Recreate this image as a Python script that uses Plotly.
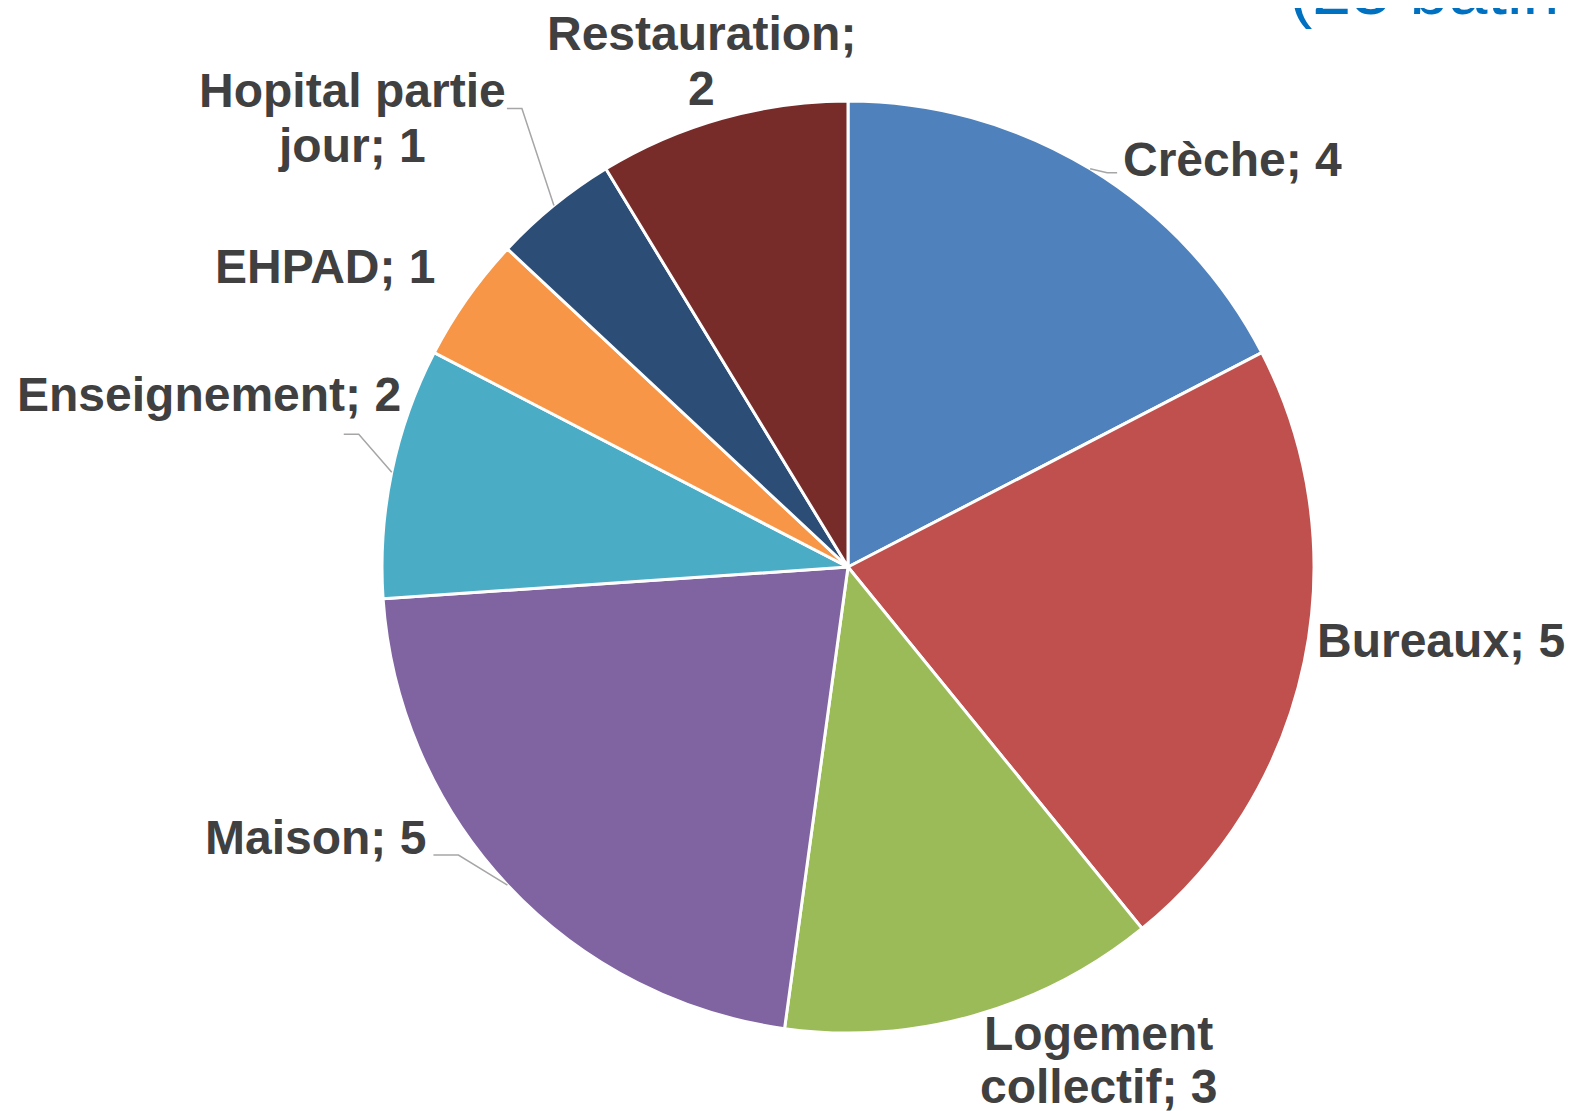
import math
import plotly.graph_objects as go

# ---- data ----
categories = ["Crèche", "Bureaux", "Logement collectif", "Maison",
              "Enseignement", "EHPAD", "Hopital partie jour", "Restauration"]
values = [4, 5, 3, 5, 2, 1, 1, 2]
label_lines = [["Crèche; 4"], ["Bureaux; 5"], ["Logement", "collectif; 3"], ["Maison; 5"],
               ["Enseignement; 2"], ["EHPAD; 1"], ["Hopital partie", "jour; 1"],
               ["Restauration;", "2"]]
colors = ["#4F81BD", "#C0504D", "#9BBB59", "#8064A2",
          "#4BACC6", "#F79646", "#2C4D75", "#772C2A"]

# ---- layout constants (screen pixels) ----
W, H = 1576, 1111
CX, CY, R = 848, 567, 466
PAGE_OFF = 8            # page body margin shifts the figure by this much

# label line centres (screen pixels) of first line, and line gap
label_pos = [(1232, 159), (1441, 640), (1098, 1033), (315, 837),
             (209, 395), (325, 266), (352, 90), (701, 33)]
line_gap = [0, 0, 53, 0, 0, 0, 55, 55]
# leader elbow offsets (elbow, end) relative to edge point, None = no leader
leaders = [((17, 4), (27, 4)), None, None, ((-49, -30), (-74, -30)),
           ((-33, -38), (-48, -38)), None, ((-32, -97), (-47, -97)), None]


def px(x, y):
    return (x - PAGE_OFF) / W, 1 - (y - PAGE_OFF) / H


x0, y0 = px(CX - R, CY + R)
x1, y1 = px(CX + R, CY - R)
fig = go.Figure(go.Pie(
    labels=categories,
    values=values,
    sort=False,
    direction="clockwise",
    rotation=0,
    marker=dict(colors=colors, line=dict(color="white", width=3)),
    textinfo="none",
    hoverinfo="skip",
    showlegend=False,
    domain=dict(x=[x0, x1], y=[y0, y1]),
))

annotations = []
shapes = []
total = sum(values)
cum = 0
for i, v in enumerate(values):
    mid = (cum + v / 2) / total * 2 * math.pi
    cum += v
    ex = CX + R * math.sin(mid)
    ey = CY - R * math.cos(mid)
    lx, ly = label_pos[i]
    for k, line in enumerate(label_lines[i]):
        x, y = px(lx, ly + k * line_gap[i])
        annotations.append(dict(
            x=x, y=y, xref="paper", yref="paper", xanchor="center", yanchor="middle",
            text=line, showarrow=False, align="center",
            font=dict(family="Liberation Sans, Arial", size=48, color="#404040",
                      weight="bold"),
        ))
    if leaders[i]:
        (e1x, e1y), (e2x, e2y) = leaders[i]
        p0 = px(ex, ey)
        p1 = px(ex + e1x, ey + e1y)
        p2 = px(ex + e2x, ey + e2y)
        shapes.append(dict(type="path", xref="paper", yref="paper",
                           path=f"M {p0[0]} {p0[1]} L {p1[0]} {p1[1]} L {p2[0]} {p2[1]}",
                           line=dict(color="#A6A6A6", width=1.5)))

# partially visible title
tx, ty = px(1287, -10)
annotations.append(dict(
    x=tx, y=ty, xref="paper", yref="paper", xanchor="left", yanchor="middle",
    text=f"({total} bâtiments)", showarrow=False,
    font=dict(family="Liberation Sans, Arial", size=70, color="#0070C0"),
))

fig.update_layout(
    width=W, height=H,
    margin=dict(l=0, r=0, t=0, b=0),
    paper_bgcolor="white", plot_bgcolor="white",
    annotations=annotations, shapes=shapes,
)

fig.write_html("out.html")
